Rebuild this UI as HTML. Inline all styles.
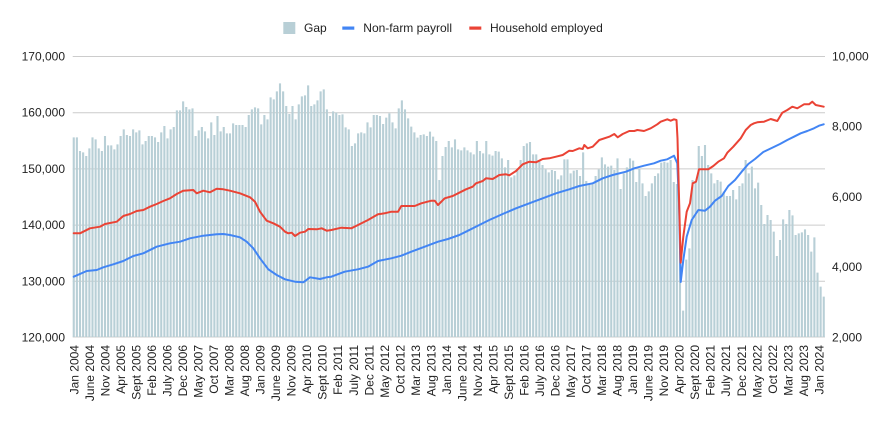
<!DOCTYPE html>
<html><head><meta charset="utf-8"><style>
html,body{margin:0;padding:0;background:#fff;width:891px;height:423px;overflow:hidden}
svg{display:block}
</style></head><body>
<svg width="891" height="423" viewBox="0 0 891 423" xmlns="http://www.w3.org/2000/svg" font-family="'Liberation Sans', Arial, sans-serif" font-size="12">
<rect x="0" y="0" width="891" height="423" fill="#fff"/>
<!-- legend -->
<rect x="283.3" y="22" width="12" height="12" fill="#b8cfd6"/>
<text x="304" y="32" fill="#222">Gap</text>
<rect x="342.3" y="26.5" width="12" height="3.2" fill="#4285f4"/>
<text x="363.3" y="32" fill="#222">Non-farm payroll</text>
<rect x="469.3" y="26.5" width="12" height="3.2" fill="#ea4335"/>
<text x="490" y="32" fill="#222">Household employed</text>
<!-- gridlines -->
<g stroke="#cccccc" stroke-width="1">
<line x1="72.7" x2="825" y1="56.5" y2="56.5"/>
<line x1="72.7" x2="825" y1="112.7" y2="112.7"/>
<line x1="72.7" x2="825" y1="168.9" y2="168.9"/>
<line x1="72.7" x2="825" y1="225.1" y2="225.1"/>
<line x1="72.7" x2="825" y1="281.3" y2="281.3"/>
<line x1="72.7" x2="825" y1="337" y2="337"/>
</g>
<!-- left axis labels -->
<g fill="#222" text-anchor="end">
<text x="65" y="60.5">170,000</text>
<text x="65" y="116.7">160,000</text>
<text x="65" y="172.9">150,000</text>
<text x="65" y="229.1">140,000</text>
<text x="65" y="285.3">130,000</text>
<text x="65" y="341.3">120,000</text>
</g>
<!-- right axis labels -->
<g fill="#222">
<text x="832" y="60.5">10,000</text>
<text x="832" y="130.5">8,000</text>
<text x="832" y="200.8">6,000</text>
<text x="832" y="271">4,000</text>
<text x="832" y="341.3">2,000</text>
</g>
<!-- bars -->
<g transform="translate(0,70) scale(1,0.3333333)">
<path fill="#b8cfd6" d="M72.7,801
V202h2.1V801h1.025V202h2.1V801h1.025V243h2.1V801h1.025V247h2.1V801h1.025V258h2.1V801h1.025V235h2.1V801h1.025V202h2.1V801h1.025V208h2.1V801h1.025V235h2.1V801h1.025V243h2.1V801h1.025
V198h2.1V801h1.025V226h2.1V801h1.025V226h2.1V801h1.025V238h2.1V801h1.025V223h2.1V801h1.025V198h2.1V801h1.025V178h2.1V801h1.025V195h2.1V801h1.025V198h2.1V801h1.025V178h2.1V801h1.025
V187h2.1V801h1.025V181h2.1V801h1.025V223h2.1V801h1.025V213h2.1V801h1.025V198h2.1V801h1.025V198h2.1V801h1.025V202h2.1V801h1.025V216h2.1V801h1.025V187h2.1V801h1.025V168h2.1V801h1.025
V205h2.1V801h1.025V178h2.1V801h1.025V171h2.1V801h1.025V121h2.1V801h1.025V121h2.1V801h1.025V94h2.1V801h1.025V111h2.1V801h1.025V118h2.1V801h1.025V115h2.1V801h1.025V198h2.1V801h1.025
V181h2.1V801h1.025V171h2.1V801h1.025V184h2.1V801h1.025V205h2.1V801h1.025V157h2.1V801h1.025V195h2.1V801h1.025V138h2.1V801h1.025V184h2.1V801h1.025V171h2.1V801h1.025V190h2.1V801h1.025
V190h2.1V801h1.025V160h2.1V801h1.025V165h2.1V801h1.025V165h2.1V801h1.025V165h2.1V801h1.025V171h2.1V801h1.025V135h2.1V801h1.025V118h2.1V801h1.025V112h2.1V801h1.025V115h2.1V801h1.025
V163h2.1V801h1.025V135h2.1V801h1.025V148h2.1V801h1.025V82h2.1V801h1.025V88h2.1V801h1.025V64h2.1V801h1.025V40h2.1V801h1.025V64h2.1V801h1.025V108h2.1V801h1.025V132h2.1V801h1.025
V108h2.1V801h1.025V148h2.1V801h1.025V103h2.1V801h1.025V79h2.1V801h1.025V76h2.1V801h1.025V46h2.1V801h1.025V108h2.1V801h1.025V103h2.1V801h1.025V91h2.1V801h1.025V64h2.1V801h1.025
V58h2.1V801h1.025V118h2.1V801h1.025V138h2.1V801h1.025V124h2.1V801h1.025V128h2.1V801h1.025V135h2.1V801h1.025V133h2.1V801h1.025V172h2.1V801h1.025V178h2.1V801h1.025V228h2.1V801h1.025
V220h2.1V801h1.025V190h2.1V801h1.025V187h2.1V801h1.025V190h2.1V801h1.025V157h2.1V801h1.025V172h2.1V801h1.025V135h2.1V801h1.025V135h2.1V801h1.025V138h2.1V801h1.025V162h2.1V801h1.025
V143h2.1V801h1.025V130h2.1V801h1.025V157h2.1V801h1.025V175h2.1V801h1.025V115h2.1V801h1.025V91h2.1V801h1.025V118h2.1V801h1.025V145h2.1V801h1.025V170h2.1V801h1.025V187h2.1V801h1.025
V203h2.1V801h1.025V195h2.1V801h1.025V193h2.1V801h1.025V198h2.1V801h1.025V185h2.1V801h1.025V200h2.1V801h1.025V213h2.1V801h1.025V330h2.1V801h1.025V258h2.1V801h1.025V231h2.1V801h1.025
V213h2.1V801h1.025V232h2.1V801h1.025V208h2.1V801h1.025V238h2.1V801h1.025V241h2.1V801h1.025V232h2.1V801h1.025V241h2.1V801h1.025V247h2.1V801h1.025V253h2.1V801h1.025V213h2.1V801h1.025
V243h2.1V801h1.025V250h2.1V801h1.025V213h2.1V801h1.025V253h2.1V801h1.025V257h2.1V801h1.025V243h2.1V801h1.025V245h2.1V801h1.025V265h2.1V801h1.025V292h2.1V801h1.025V270h2.1V801h1.025
V322h2.1V801h1.025V316h2.1V801h1.025V296h2.1V801h1.025V270h2.1V801h1.025V228h2.1V801h1.025V220h2.1V801h1.025V216h2.1V801h1.025V253h2.1V801h1.025V253h2.1V801h1.025V270h2.1V801h1.025
V285h2.1V801h1.025V298h2.1V801h1.025V307h2.1V801h1.025V300h2.1V801h1.025V303h2.1V801h1.025V328h2.1V801h1.025V316h2.1V801h1.025V268h2.1V801h1.025V268h2.1V801h1.025V310h2.1V801h1.025
V302h2.1V801h1.025V300h2.1V801h1.025V318h2.1V801h1.025V247h2.1V801h1.025V333h2.1V801h1.025V340h2.1V801h1.025V340h2.1V801h1.025V318h2.1V801h1.025V298h2.1V801h1.025V262h2.1V801h1.025
V283h2.1V801h1.025V290h2.1V801h1.025V287h2.1V801h1.025V300h2.1V801h1.025V265h2.1V801h1.025V357h2.1V801h1.025V310h2.1V801h1.025V292h2.1V801h1.025V265h2.1V801h1.025V272h2.1V801h1.025
V336h2.1V801h1.025V297h2.1V801h1.025V340h2.1V801h1.025V378h2.1V801h1.025V364h2.1V801h1.025V340h2.1V801h1.025V318h2.1V801h1.025V310h2.1V801h1.025V278h2.1V801h1.025V275h2.1V801h1.025
V278h2.1V801h1.025V270h2.1V801h1.025V336h2.1V801h1.025V342h2.1V801h1.025V543h2.1V801h1.025V722h2.1V801h1.025V569h2.1V801h1.025V535h2.1V801h1.025V330h2.1V801h1.025V335h2.1V801h1.025
V228h2.1V801h1.025V258h2.1V801h1.025V225h2.1V801h1.025V285h2.1V801h1.025V310h2.1V801h1.025V340h2.1V801h1.025V330h2.1V801h1.025V335h2.1V801h1.025V365h2.1V801h1.025V378h2.1V801h1.025
V378h2.1V801h1.025V360h2.1V801h1.025V388h2.1V801h1.025V348h2.1V801h1.025V340h2.1V801h1.025V270h2.1V801h1.025V310h2.1V801h1.025V290h2.1V801h1.025V355h2.1V801h1.025V338h2.1V801h1.025
V405h2.1V801h1.025V462h2.1V801h1.025V435h2.1V801h1.025V450h2.1V801h1.025V485h2.1V801h1.025V558h2.1V801h1.025V510h2.1V801h1.025V448h2.1V801h1.025V462h2.1V801h1.025V420h2.1V801h1.025
V436h2.1V801h1.025V495h2.1V801h1.025V490h2.1V801h1.025V487h2.1V801h1.025V478h2.1V801h1.025V495h2.1V801h1.025V545h2.1V801h1.025V502h2.1V801h1.025V608h2.1V801h1.025V650h2.1V801h1.025V680h2.1V801Z"/>
</g>
<!-- lines -->
<polyline fill="none" stroke="#4285f4" stroke-width="2" stroke-linejoin="round" stroke-linecap="round" points="73.7,276.7 86.7,271 96.7,270 103.3,267.3 113.3,264.3 123.3,261 133.3,256 143.3,253.3 156.7,246.7 170,243.3 180,241.7 190,238.3 203.3,235.7 216.7,234.3 223.3,234 230,235 240,237.3 246.7,241.7 253.3,248.3 260,258.3 268.3,269.3 276.7,275 285,279.3 295,281.7 303.3,282.3 310,277.3 320,279 326.7,277.3 331.3,276.7 344.7,271.7 358,269.3 368,266.7 378,261 391.3,258.3 401.3,255.7 411.3,251.7 424.7,246.7 438,241.7 448,239 459.3,235 466,231.7 479.3,225 489.3,220 502.7,214 516,208.3 529.3,203.3 542.7,198.3 556,193.3 569.3,189.3 579.3,186 592.7,183.3 602.7,178.3 612.7,175 626,171.7 634.3,168.3 644,165.7 654,163.3 660.7,160.7 667.3,159.3 674,155.7 677.3,163.3 679,203.3 680.7,282 683.3,260 686.7,236.7 691.7,220 698.3,210 705,210.7 710,206.7 715,200.7 721.7,196 728.3,186 735,180 741.7,171.7 748.3,164 755,159 763.3,152 771.7,148 780,144 787.3,140 794,136.7 800.7,133.3 807.3,131 814,128.3 819,125.7 823.7,124.3"/>
<polyline fill="none" stroke="#ea4335" stroke-width="2" stroke-linejoin="round" stroke-linecap="round" points="73.7,233.3 80,233.3 90,228.3 100,226.7 105,224 116.7,221.7 123.3,216 130,214 136.7,211 143.3,210 150,206.7 156.7,204 163.3,201 170,198.3 176.7,194 183.3,190.7 193.3,190 196.7,193.3 203.3,190.7 210,192.3 216.7,188.7 223.3,189.3 230,190.7 240,193.3 250,197.3 255,201.7 260,211.7 266.7,220.7 273.3,223.3 280,226.7 285,231.7 288.3,233.3 291.7,232.7 295,236 300,232.7 305,231.7 308.3,229 316.7,229.3 321.7,228.3 326.7,230.7 331.3,230 341.3,227.7 351.3,228.3 358,225 368,220 378,214.3 384.7,213.3 391.3,211.7 398,211.7 401.3,206 414.7,206 421.3,203.3 431.3,200.7 434.7,200.7 438,205 444.7,198.3 452.7,196 459.3,192.7 466,189.3 472.7,186.7 476,183.3 482.7,181 486,178.3 492.7,179 499.3,175 506,174.3 509.3,175.3 516,171 522.7,164.3 529.3,161.7 536,162.3 542.7,159 549.3,158.3 556,156.7 562.7,155 569.3,150.7 572.7,151 579.3,148.3 582.7,149 584.3,145 587.7,148.3 592.7,146.7 599.3,140 609.3,136.7 614.3,134 617.7,137.3 622.7,134 629.3,131 634.3,131 637.3,130 644,131 650.7,128.3 657.3,124.3 660.7,121.7 667.3,119.3 670.7,120.7 674,119.3 676.5,120 677.5,138.3 680.7,262.7 683.3,236.7 686.7,211.7 690,203.3 692.7,183.3 696,181.7 699,169.3 708.3,169.3 713.3,166 718.3,161.7 724,158.3 727.3,152.7 733.3,146.7 740.7,138.3 745.7,130 750.7,125 754,123.3 757.3,122.3 764,121.7 770.7,119 777.3,121 782.3,112.7 787.3,110 792.3,106.7 797.3,108.3 804,104.3 809,104.3 812.3,101.7 815.7,105 823.7,106.7"/>
<!-- x axis labels -->
<g fill="#222" text-anchor="end">
<text transform="translate(78.4,345) rotate(-90)">Jan 2004</text>
<text transform="translate(93.9,345) rotate(-90)">June 2004</text>
<text transform="translate(109.4,345) rotate(-90)">Nov 2004</text>
<text transform="translate(125,345) rotate(-90)">Apr 2005</text>
<text transform="translate(140.5,345) rotate(-90)">Sept 2005</text>
<text transform="translate(156,345) rotate(-90)">Feb 2006</text>
<text transform="translate(171.5,345) rotate(-90)">July 2006</text>
<text transform="translate(187,345) rotate(-90)">Dec 2006</text>
<text transform="translate(202.6,345) rotate(-90)">May 2007</text>
<text transform="translate(218.1,345) rotate(-90)">Oct 2007</text>
<text transform="translate(233.6,345) rotate(-90)">Mar 2008</text>
<text transform="translate(249.1,345) rotate(-90)">Aug 2008</text>
<text transform="translate(264.6,345) rotate(-90)">Jan 2009</text>
<text transform="translate(280.2,345) rotate(-90)">June 2009</text>
<text transform="translate(295.7,345) rotate(-90)">Nov 2009</text>
<text transform="translate(311.2,345) rotate(-90)">Apr 2010</text>
<text transform="translate(326.7,345) rotate(-90)">Sept 2010</text>
<text transform="translate(342.2,345) rotate(-90)">Feb 2011</text>
<text transform="translate(357.8,345) rotate(-90)">July 2011</text>
<text transform="translate(373.3,345) rotate(-90)">Dec 2011</text>
<text transform="translate(388.8,345) rotate(-90)">May 2012</text>
<text transform="translate(404.3,345) rotate(-90)">Oct 2012</text>
<text transform="translate(419.8,345) rotate(-90)">Mar 2013</text>
<text transform="translate(435.4,345) rotate(-90)">Aug 2013</text>
<text transform="translate(450.9,345) rotate(-90)">Jan 2014</text>
<text transform="translate(466.4,345) rotate(-90)">June 2014</text>
<text transform="translate(481.9,345) rotate(-90)">Nov 2014</text>
<text transform="translate(497.4,345) rotate(-90)">Apr 2015</text>
<text transform="translate(513,345) rotate(-90)">Sept 2015</text>
<text transform="translate(528.5,345) rotate(-90)">Feb 2016</text>
<text transform="translate(544,345) rotate(-90)">July 2016</text>
<text transform="translate(559.5,345) rotate(-90)">Dec 2016</text>
<text transform="translate(575,345) rotate(-90)">May 2017</text>
<text transform="translate(590.6,345) rotate(-90)">Oct 2017</text>
<text transform="translate(606.1,345) rotate(-90)">Mar 2018</text>
<text transform="translate(621.6,345) rotate(-90)">Aug 2018</text>
<text transform="translate(637.1,345) rotate(-90)">Jan 2019</text>
<text transform="translate(652.6,345) rotate(-90)">June 2019</text>
<text transform="translate(668.2,345) rotate(-90)">Nov 2019</text>
<text transform="translate(683.7,345) rotate(-90)">Apr 2020</text>
<text transform="translate(699.2,345) rotate(-90)">Sept 2020</text>
<text transform="translate(714.7,345) rotate(-90)">Feb 2021</text>
<text transform="translate(730.2,345) rotate(-90)">July 2021</text>
<text transform="translate(745.8,345) rotate(-90)">Dec 2021</text>
<text transform="translate(761.3,345) rotate(-90)">May 2022</text>
<text transform="translate(776.8,345) rotate(-90)">Oct 2022</text>
<text transform="translate(792.3,345) rotate(-90)">Mar 2023</text>
<text transform="translate(807.8,345) rotate(-90)">Aug 2023</text>
<text transform="translate(823.4,345) rotate(-90)">Jan 2024</text>
</g>
</svg>
</body></html>
